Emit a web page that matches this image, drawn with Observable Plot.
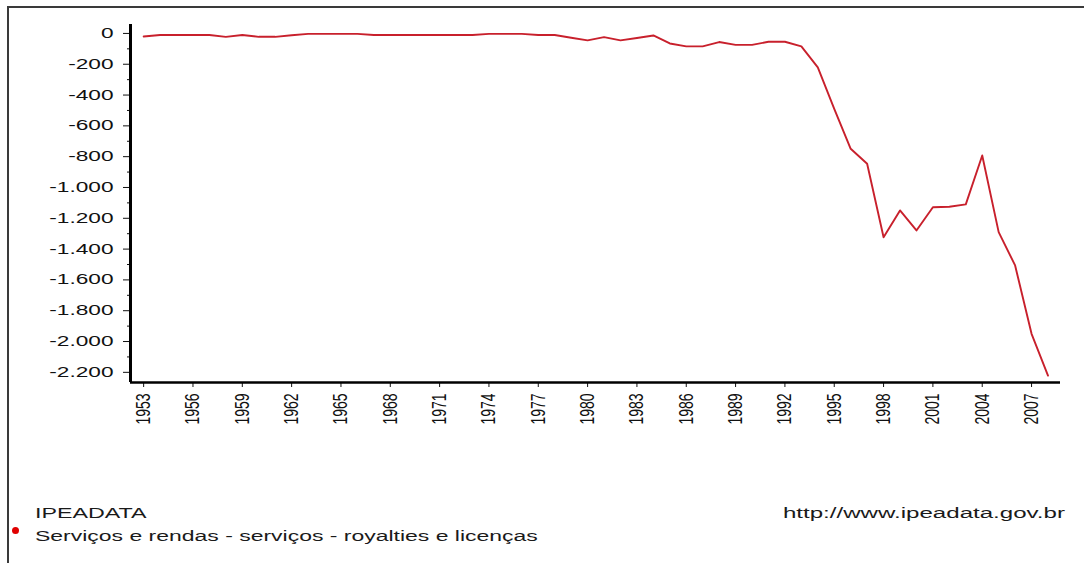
<!DOCTYPE html>
<html><head><meta charset="utf-8">
<script src="https://cdn.jsdelivr.net/npm/d3@7"></script>
<script src="https://cdn.jsdelivr.net/npm/@observablehq/plot@0.6"></script>
<style>
body{margin:0;background:#fff;}
#wrap{position:relative;width:1084px;height:563px;overflow:hidden;background:#fff;font-family:"Liberation Sans",Arial,sans-serif;}
#border{position:absolute;left:7px;top:6px;width:1200px;height:700px;border-top:2px solid #3a3a3a;border-left:2px solid #3a3a3a;}
#chart{position:absolute;left:0;top:0;}
.foot{position:absolute;font-size:14px;line-height:16px;color:#1a1a1a;white-space:nowrap;}
#dot{position:absolute;left:12px;top:527px;width:7px;height:7px;border-radius:50%;background:#e00000;}
</style></head>
<body>
<div id="wrap">
  <div id="border"></div>
  <div id="chart"></div>
  <div class="foot" id="src" style="left:35px;top:505px;transform:scaleX(1.66);transform-origin:0 0;">IPEADATA</div>
  <div id="dot"></div>
  <div class="foot" id="series" style="left:35px;top:528px;transform:scaleX(1.64);transform-origin:0 0;">Serviços e rendas - serviços - royalties e licenças</div>
  <div class="foot" id="url" style="right:19px;top:505px;transform:scaleX(1.72);transform-origin:100% 0;">http://www.ipeadata.gov.br</div>
</div>
<script>
// ---- data ----
const years = [1953,1954,1955,1956,1957,1958,1959,1960,1961,1962,1963,1964,1965,1966,1967,1968,1969,1970,1971,1972,1973,1974,1975,1976,1977,1978,1979,1980,1981,1982,1983,1984,1985,1986,1987,1988,1989,1990,1991,1992,1993,1994,1995,1996,1997,1998,1999,2000,2001,2002,2003,2004,2005,2006,2007,2008];
const values = [-20,-10,-10,-10,-10,-22,-10,-22,-22,-12,-3,-3,-3,-3,-10,-10,-10,-10,-10,-10,-10,-3,-3,-3,-10,-10,-28,-45,-24,-45,-30,-13,-65,-84,-84,-56,-74,-74,-54,-54,-84,-220,-490,-749,-846,-1323,-1149,-1279,-1128,-1125,-1110,-792,-1290,-1506,-1950,-2221];
const xTicks = [1953,1956,1959,1962,1965,1968,1971,1974,1977,1980,1983,1986,1989,1992,1995,1998,2001,2004,2007];
const yTicks = [0,-200,-400,-600,-800,-1000,-1200,-1400,-1600,-1800,-2000,-2200];
const yMinorTicks = [-100,-300,-500,-700,-900,-1100,-1300,-1500,-1700,-1900,-2100];
const seriesName = "Serviços e rendas - serviços - royalties e licenças";

const xDomain = [1952.2, 2008.76];
const yDomain = [-2266, 58];

const data = years.map((y, i) => ({year: y, value: values[i]}));
const loc = d3.formatLocale({decimal: ",", thousands: ".", grouping: [3], currency: ["", ""], minus: "-"});
const fmt = loc.format(",d");

const svg = Plot.plot({
  width: 1084,
  height: 440,
  marginLeft: 130,
  marginRight: 24,
  marginTop: 24,
  marginBottom: 58,
  style: {fontFamily: "'Liberation Sans', Arial, sans-serif", fontSize: "14px", color: "#111", background: "transparent"},
  x: {domain: xDomain, label: null},
  y: {domain: yDomain, label: null},
  marks: [
    Plot.axisY(yMinorTicks, {tickSize: 3, tickFormat: () => "", label: null}),
    Plot.axisY(yTicks, {tickSize: 7, tickPadding: 10, tickFormat: fmt, label: null, fontSize: 14}),
    Plot.axisX(xTicks, {tickSize: 5, tickPadding: 6, tickRotate: -90, tickFormat: d => String(d), label: null, fontSize: 14, letterSpacing: "1px"}),
    Plot.ruleX([xDomain[0]], {stroke: "#000", strokeWidth: 3}),
    Plot.ruleY([yDomain[0]], {stroke: "#000", strokeWidth: 2.5}),
    Plot.line(data, {x: "year", y: "value", stroke: "#c8202c", strokeWidth: 1.9})
  ]
});

function stretch(t, s) {
  let tr = t.getAttribute("transform");
  if (!tr) {
    const x = t.getAttribute("x") || 0, y = t.getAttribute("y") || 0;
    t.removeAttribute("x"); t.removeAttribute("y");
    tr = `translate(${x},${y})`;
  }
  if (tr.includes("rotate(")) tr = tr.replace("rotate(", `scale(${s},1) rotate(`);
  else tr += ` scale(${s},1)`;
  t.setAttribute("transform", tr);
}
svg.querySelectorAll('g[aria-label="y-axis tick label"] text').forEach(t => stretch(t, 1.62));
svg.querySelectorAll('g[aria-label="x-axis tick label"] text').forEach(t => stretch(t, 1.4));

document.getElementById("chart").appendChild(svg);
document.getElementById("series").textContent = seriesName;
</script>
</body></html>
